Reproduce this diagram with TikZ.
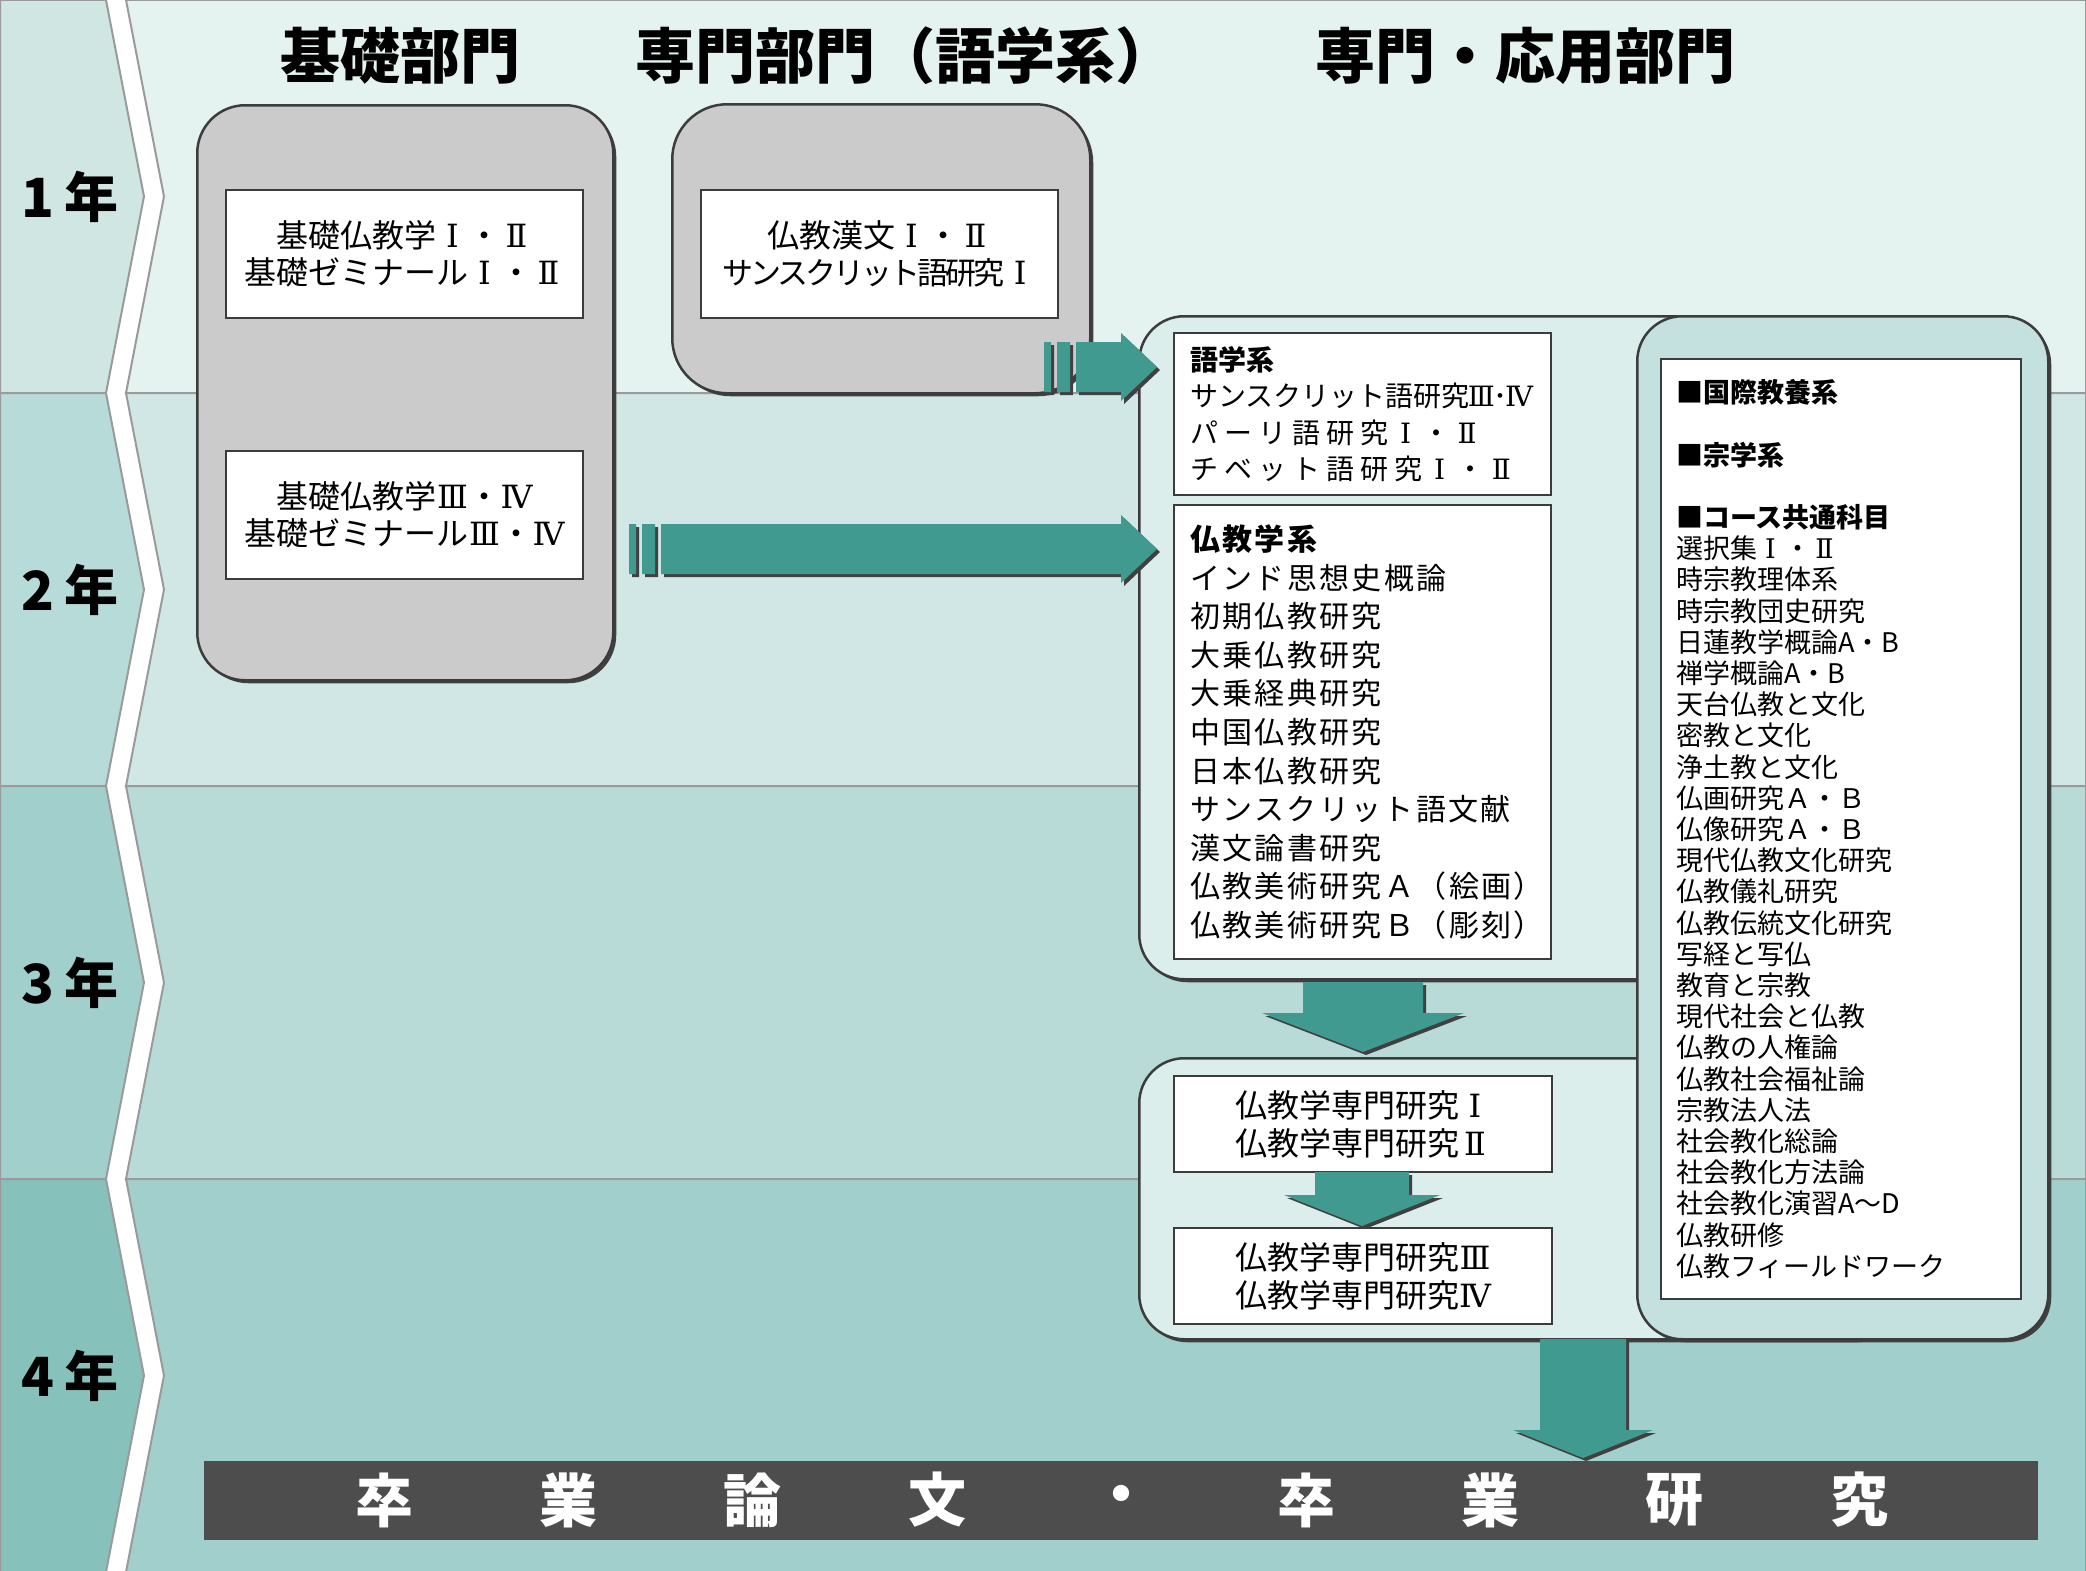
\documentclass[tikz,border=0pt]{standalone}
\usepackage{fontspec}
\setmainfont{Noto Sans CJK JP}
\newfontfamily\rnfont{DejaVu Serif}
\usetikzlibrary{shadows,calc}
\definecolor{bandA}{HTML}{E4F2F0}
\definecolor{bandB}{HTML}{D0E7E5}
\definecolor{bandC}{HTML}{B8DBD8}
\definecolor{bandD}{HTML}{A1CFCB}
\definecolor{yearA}{HTML}{CFE6E3}
\definecolor{yearB}{HTML}{B7DBD8}
\definecolor{yearC}{HTML}{A1CFCB}
\definecolor{yearD}{HTML}{87C1BB}
\definecolor{rulegray}{HTML}{9A9A9A}
\definecolor{edgegray}{HTML}{3C3C3C}
\definecolor{boxgray}{HTML}{CBCBCB}
\definecolor{shadowgray}{HTML}{404040}
\definecolor{arrowteal}{HTML}{409A90}
\definecolor{paleteal}{HTML}{DCEEEC}
\definecolor{midteal}{HTML}{C4E1DF}
\definecolor{bargray}{HTML}{4D4D4D}
\newcommand{\rn}[2][1em]{\makebox[#1]{\rnfont #2}}
\newcommand{\rightblock}[2]{\fill[blockarrow] let \p1=(#1), \p2=(#2) in (\x1,\y1-25pt) rectangle (\x1+7pt,\y1+25pt) (\x1+13pt,\y1-25pt) rectangle (\x1+26pt,\y1+25pt) (\x1+32pt,\y1-25pt) -- (\x2-36pt,\y1-25pt) -- (\x2-36pt,\y1-34pt) -- (\x2,\y1) -- (\x2-36pt,\y1+34pt) -- (\x2-36pt,\y1+25pt) -- (\x1+32pt,\y1+25pt) -- cycle;}
\newcommand{\downblock}[5]{\fill[blockarrow] let \p1=(#1), \p2=(#2) in (\x2-#3pt,\y1) -- (\x2+#3pt,\y1) -- (\x2+#3pt,\y2+#5pt) -- (\x2+#4pt,\y2+#5pt) -- (\x2,\y2) -- (\x2-#4pt,\y2+#5pt) -- (\x2-#3pt,\y2+#5pt) -- cycle;}
\tikzset{dshadow/.style={drop shadow={shadow xshift=3pt, shadow yshift=-3pt, fill=shadowgray, opacity=1}},
  groupbox/.style={draw=edgegray, line width=2.5pt, fill=boxgray, rounded corners=48pt, dshadow, anchor=north west, inner sep=0pt},
  panel/.style={draw=edgegray, line width=2.5pt, rounded corners=45pt, dshadow, anchor=north west, inner sep=0pt},
  course/.style={draw=edgegray, line width=2pt, fill=white, anchor=north west, inner sep=0pt, align=center, font=\fontsize{32}{37.5}\selectfont},
  courselist/.style={course, align=left, inner xsep=16pt},
  blockarrow/.style={fill=arrowteal, dshadow},
  heading/.style={font=\fontsize{60}{66}\selectfont\bfseries},
  yearlabel/.style={font=\fontsize{54}{60}\selectfont\bfseries},
  bartext/.style={text=white, font=\fontsize{58}{60}\selectfont\bfseries}}

\begin{document}
\begin{tikzpicture}[x=1pt, y=-1pt]
\useasboundingbox (0,0) rectangle (2086,1571);
\fill[white] (0,0) rectangle (2086,1571);
\foreach \c/\y [count=\i] in {A/0,B/393,C/786,D/1179} {
  \filldraw[fill=year\c, draw=rulegray, line width=2pt] (0,\y) -- (106,\y) -- (144,\y+196.5) -- (106,\y+393) -- (0,\y+393) -- cycle;
  \filldraw[fill=band\c, draw=rulegray, line width=2pt] (126,\y) -- (2086,\y) -- (2086,\y+393) -- (126,\y+393) -- (164,\y+196.5) -- cycle;
  \node[yearlabel] (year\i) at (70,\y+196.5) {\i\hspace{10pt}年};
}
\node[heading] (kiso) at (400,56) {基礎部門};
\node[heading] (gogakuhead) at (905,56) {専門部門（語学系）};
\node[heading] (oyo) at (1525,56) {専門・応用部門};

\node[groupbox, minimum width=416pt, minimum height=575pt] (kb) at (196,104) {};
\node[groupbox, minimum width=418pt, minimum height=289pt, rounded corners=55pt] (gg) at (671,103) {};
\node[course, minimum width=357pt, minimum height=128pt] (k12) at (225,189) {基礎仏教学\rn{Ⅰ}・\rn{Ⅱ}\\基礎ゼミナール\rn{Ⅰ}・\rn{Ⅱ}};
\node[course, minimum width=357pt, minimum height=128pt] (k34) at (225,450) {基礎仏教学\rn{Ⅲ}・\rn{Ⅳ}\\基礎ゼミナール\rn{Ⅲ}・\rn{Ⅳ}};
\node[course, minimum width=357pt, minimum height=128pt] (g12) at (700,189) {仏教漢文\rn{Ⅰ}・\rn{Ⅱ}\\{\fontsize{31}{37.5}\selectfont\addfontfeature{LetterSpace=-10}サンスクリット語研究}\rn{Ⅰ}};

\node[panel, fill=paleteal, minimum width=760pt, minimum height=663pt] (upper) at (1138,315) {};
\node[panel, fill=paleteal, minimum width=760pt, minimum height=281pt] (lower) at (1138,1057) {};
\node[panel, fill=midteal, minimum width=411pt, minimum height=1023pt] (common) at (1636,315) {};

\node[courselist, text width=345pt, minimum height=162pt, font=\fontsize{28}{36.5}\selectfont] (gogaku) at (1173,332) {\textbf{語学系}\\サンスクリット語研究\rn[0.85em]{Ⅲ}･\rn[0.85em]{Ⅳ}\\{\addfontfeature{LetterSpace=22}パーリ語研究}\rn[1.2em]{Ⅰ}・\rn[1.2em]{Ⅱ}\\{\addfontfeature{LetterSpace=22}チベット語研究}\rn[1.2em]{Ⅰ}・\rn[1.2em]{Ⅱ}};
\node[courselist, text width=345pt, minimum height=454pt, font=\fontsize{30}{38.6}\selectfont\addfontfeature{LetterSpace=8}] (bukkyo) at (1173,504) {\textbf{仏教学系}\\インド思想史概論\\初期仏教研究\\大乗仏教研究\\大乗経典研究\\中国仏教研究\\日本仏教研究\\サンスクリット語文献\\漢文論書研究\\仏教美術研究Ａ（絵画）\\仏教美術研究Ｂ（彫刻）};
\node[course, minimum width=378pt, minimum height=96pt, font=\fontsize{32}{38}\selectfont] (sr12) at (1173,1075) {仏教学専門研究\rn{Ⅰ}\\仏教学専門研究\rn{Ⅱ}};
\node[course, minimum width=378pt, minimum height=96pt, font=\fontsize{32}{38}\selectfont] (sr34) at (1173,1227) {仏教学専門研究\rn{Ⅲ}\\仏教学専門研究\rn{Ⅳ}};
\node[courselist, inner xsep=15pt, text width=330pt, minimum height=940pt, font=\fontsize{27}{31.2}\selectfont] (kyotsu) at (1660,358) {\textbf{■国際教養系}\\[31.2pt]\textbf{■宗学系}\\[31.2pt]\textbf{■コース共通科目}\\選択集\rn{Ⅰ}・\rn{Ⅱ}\\時宗教理体系\\時宗教団史研究\\日蓮教学概論A・B\\禅学概論A・B\\天台仏教と文化\\密教と文化\\浄土教と文化\\仏画研究Ａ・Ｂ\\仏像研究Ａ・Ｂ\\現代仏教文化研究\\仏教儀礼研究\\仏教伝統文化研究\\写経と写仏\\教育と宗教\\現代社会と仏教\\仏教の人権論\\仏教社会福祉論\\宗教法人法\\社会教化総論\\社会教化方法論\\社会教化演習A～D\\仏教研修\\仏教フィールドワーク};

\coordinate (r1) at (1044,367);
\coordinate (r1t) at (1157,367);
\coordinate (r2) at (629,549);
\coordinate (r2t) at (1157,549);
\coordinate (d1) at (1363,982);
\coordinate (d1t) at (1363,1052);
\coordinate (d2) at (1362,1172);
\coordinate (d2t) at (1362,1226);
\coordinate (d3) at (1583,1339);
\coordinate (d3t) at (1583,1458);
\rightblock{r1}{r1t}
\rightblock{r2}{r2t}
\downblock{d1}{d1t}{60}{101}{39}
\downblock{d2}{d2t}{47}{78}{31}
\downblock{d3}{d3t}{43}{70}{28}

\node[fill=bargray, minimum width=1834pt, minimum height=79pt, anchor=north west, inner sep=0pt] (thesis) at (204,1461) {};
\foreach \ch [count=\k from 0] in {卒,業,論,文,・,卒,業,研,究}
  \node[bartext] (t\k) at (384+184.4*\k,1500) {\ch};
\end{tikzpicture}
\end{document}
